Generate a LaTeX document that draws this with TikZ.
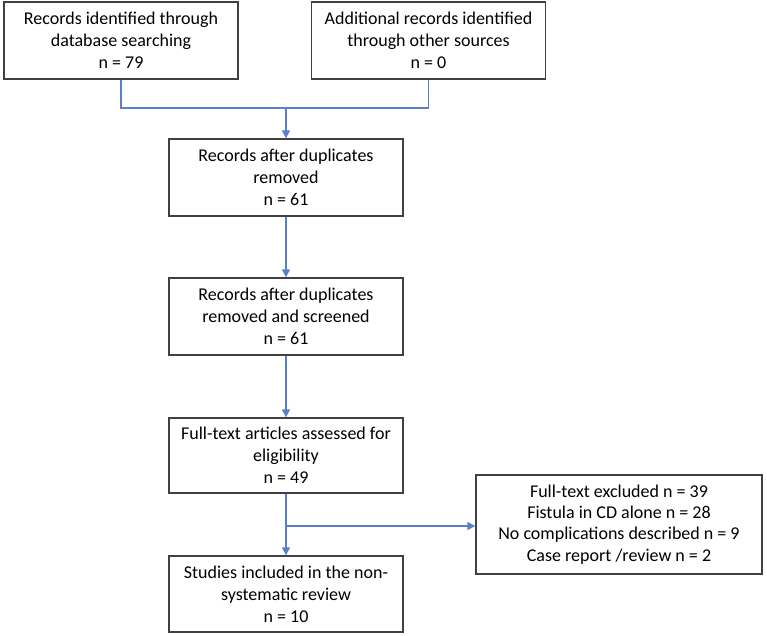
\documentclass[tikz,border=0pt]{standalone}
\usepackage{fontspec}
\setmainfont{Carlito}
\usetikzlibrary{arrows.meta}
\definecolor{linkblue}{RGB}{88,128,200}
\definecolor{boxgray}{RGB}{64,64,64}
\begin{document}
\begin{tikzpicture}[x=1pt,y=-1pt,
  box/.style={draw=boxgray, line width=1.3pt, align=center, inner sep=0pt,
    minimum width=234, minimum height=77, font=\fontsize{18}{22}\selectfont},
  conn/.style={draw=linkblue, line width=1.3pt},
  arr/.style={conn, -{Triangle[length=8pt,width=8pt]}}]
\useasboundingbox (0,0) rectangle (767,636);
\node[box] (a) at (121,40.5) {Records identified through\\database searching\\n = 79};
\node[box] (b) at (428.5,40.5) {Additional records identified\\through other sources\\n = 0};
\node[box] (c) at (286,177.5) {Records after duplicates\\removed\\n = 61};
\node[box] (d) at (286,316.5) {Records after duplicates\\removed and screened\\n = 61};
\node[box, minimum height=75] (e) at (286,455.5) {Full-text articles assessed for\\eligibility\\n = 49};
\node[box, minimum height=76] (f) at (286,594) {Studies included in the non-\\systematic review\\n = 10};
\node[box, minimum width=286, minimum height=99, font=\fontsize{18}{21.3}\selectfont] (g) at (619,524.5)
  {Full-text excluded n = 39\\Fistula in CD alone n = 28\\No complications described n = 9\\Case report /review n = 2};
\coordinate (jl) at (121,108);
\coordinate (jm) at (286,108);
\coordinate (br) at (286,526);
\draw[conn] (a.south) |- (b.south |- jl) -- (b.south);
\draw[arr] (jm) -- (c.north);
\draw[arr] (c.south) -- (d.north);
\draw[arr] (d.south) -- (e.north);
\draw[arr] (e.south) -- (f.north);
\draw[arr] (br) -- (br -| g.west);
\end{tikzpicture}
\end{document}
